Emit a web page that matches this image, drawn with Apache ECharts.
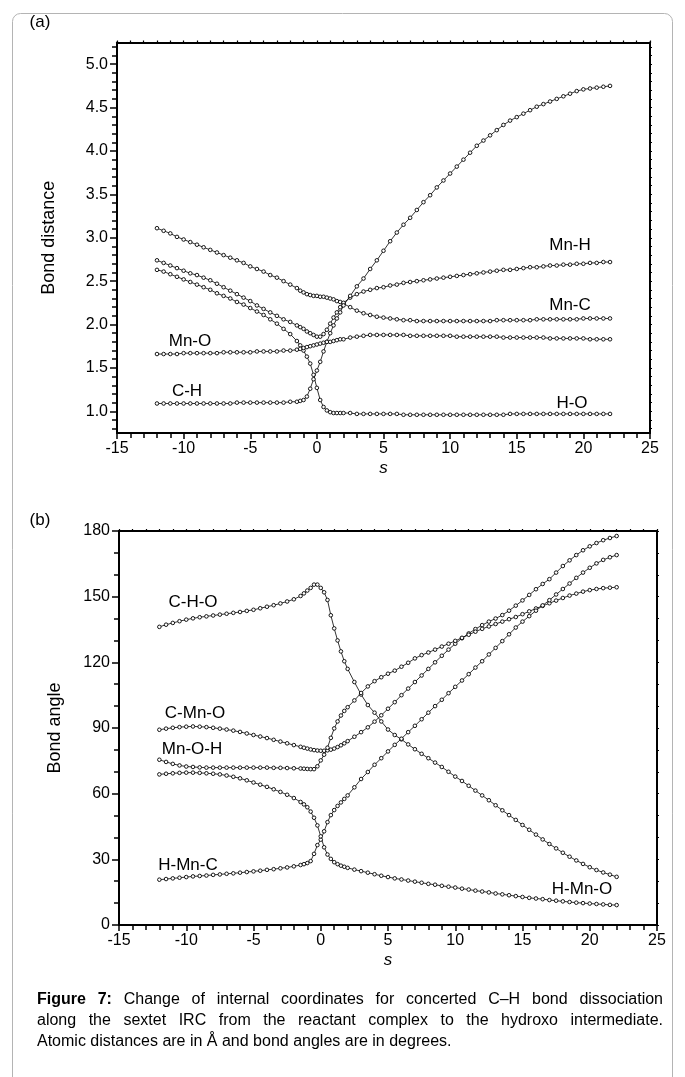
<!DOCTYPE html>
<html>
<head>
<meta charset="utf-8">
<title>Figure 7 - internal coordinates along the IRC</title>
<script src="https://cdn.jsdelivr.net/npm/echarts@6/dist/echarts.min.js"></script>
<style>
    html, body { margin: 0; padding: 0; background: #fff; }
    #chart { width: 685px; height: 1077px; }
</style>
</head>
<body>
<div id="chart"></div>
<script>
// reaction coordinate s (shared by every curve)
const S = [-12, -11.5, -11, -10.5, -10, -9.5, -9, -8.5, -8, -7.5, -7, -6.5, -6, -5.5, -5, -4.5, -4, -3.5, -3, -2.5, -2, -1.5,
    -1.25, -1, -0.75, -0.5, -0.25, 0, 0.25, 0.5, 0.75, 1, 1.25, 1.5, 1.75, 2,
    2.5, 3, 3.5, 4, 4.5, 5, 5.5, 6, 6.5, 7, 7.5, 8, 8.5, 9, 9.5, 10, 10.5, 11, 11.5, 12, 12.5, 13, 13.5, 14,
    14.5, 15, 15.5, 16, 16.5, 17, 17.5, 18, 18.5, 19, 19.5, 20, 20.5, 21, 21.5, 22];

// (a) bond distances
const mnC = [3.11, 3.08, 3.05, 3.01, 2.98, 2.95, 2.92, 2.89, 2.86, 2.83, 2.80, 2.77, 2.74, 2.71, 2.67, 2.64, 2.61, 2.57, 2.54, 2.50, 2.46, 2.42,
    2.39, 2.37, 2.35, 2.34, 2.33, 2.33, 2.32, 2.32, 2.31, 2.30, 2.29, 2.27, 2.26, 2.24,
    2.20, 2.16, 2.13, 2.11, 2.09, 2.08, 2.07, 2.06, 2.05, 2.05, 2.04, 2.04, 2.04, 2.04, 2.04, 2.04, 2.04, 2.04, 2.04, 2.04,
    2.04, 2.04, 2.05, 2.05, 2.05, 2.05, 2.05, 2.05, 2.06, 2.06, 2.06, 2.06, 2.06, 2.06, 2.06, 2.07, 2.07, 2.07, 2.07, 2.07];
const mnH = [2.74, 2.71, 2.68, 2.65, 2.62, 2.59, 2.57, 2.54, 2.51, 2.47, 2.43, 2.39, 2.35, 2.31, 2.27, 2.22, 2.18, 2.14, 2.10, 2.06, 2.03, 1.99,
    1.97, 1.95, 1.92, 1.90, 1.88, 1.86, 1.86, 1.89, 1.94, 2.01, 2.08, 2.14, 2.20, 2.25,
    2.31, 2.35, 2.38, 2.40, 2.42, 2.43, 2.45, 2.46, 2.48, 2.49, 2.50, 2.51, 2.52, 2.53, 2.54, 2.55, 2.56, 2.57, 2.58, 2.59,
    2.60, 2.61, 2.62, 2.63, 2.63, 2.64, 2.65, 2.66, 2.66, 2.67, 2.68, 2.68, 2.69, 2.69, 2.70, 2.70, 2.71, 2.71, 2.72, 2.72];
const hO = [2.63, 2.61, 2.58, 2.55, 2.52, 2.49, 2.46, 2.43, 2.40, 2.36, 2.33, 2.30, 2.26, 2.23, 2.19, 2.15, 2.11, 2.06, 2.01, 1.95, 1.89, 1.81,
    1.76, 1.70, 1.63, 1.55, 1.42, 1.27, 1.13, 1.05, 1.01, 0.99, 0.98, 0.98, 0.98, 0.98,
    0.98, 0.97, 0.97, 0.97, 0.97, 0.97, 0.97, 0.97, 0.96, 0.96, 0.96, 0.96, 0.96, 0.96, 0.96, 0.96, 0.96, 0.96, 0.96, 0.96,
    0.96, 0.96, 0.96, 0.96, 0.97, 0.97, 0.97, 0.97, 0.97, 0.97, 0.97, 0.97, 0.97, 0.97, 0.97, 0.97, 0.97, 0.97, 0.97, 0.97];
const cH = [1.09, 1.09, 1.09, 1.09, 1.09, 1.09, 1.09, 1.09, 1.09, 1.09, 1.09, 1.09, 1.10, 1.10, 1.10, 1.10, 1.10, 1.10, 1.10, 1.10, 1.11, 1.11,
    1.12, 1.13, 1.17, 1.26, 1.37, 1.47, 1.57, 1.69, 1.80, 1.90, 1.99, 2.07, 2.14, 2.22,
    2.33, 2.44, 2.53, 2.64, 2.74, 2.85, 2.96, 3.06, 3.15, 3.23, 3.32, 3.41, 3.49, 3.58, 3.66, 3.74, 3.82, 3.90, 3.98, 4.06,
    4.12, 4.18, 4.24, 4.30, 4.35, 4.39, 4.43, 4.47, 4.51, 4.54, 4.57, 4.60, 4.63, 4.66, 4.69, 4.71, 4.72, 4.73, 4.74, 4.75];
const mnO = [1.66, 1.66, 1.66, 1.66, 1.67, 1.67, 1.67, 1.67, 1.67, 1.67, 1.68, 1.68, 1.68, 1.68, 1.68, 1.69, 1.69, 1.69, 1.69, 1.70, 1.70, 1.71,
    1.72, 1.73, 1.74, 1.75, 1.76, 1.77, 1.78, 1.79, 1.80, 1.80, 1.81, 1.82, 1.83, 1.83,
    1.85, 1.86, 1.87, 1.88, 1.88, 1.88, 1.88, 1.88, 1.88, 1.87, 1.87, 1.87, 1.87, 1.87, 1.87, 1.87, 1.86, 1.86, 1.86, 1.86,
    1.86, 1.86, 1.86, 1.85, 1.85, 1.85, 1.85, 1.85, 1.85, 1.85, 1.84, 1.84, 1.84, 1.84, 1.84, 1.84, 1.83, 1.83, 1.83, 1.83];

// (b) bond angles
const cHO = [136.2, 137.2, 138, 138.8, 139.5, 140.1, 140.6, 141, 141.4, 141.8, 142.2, 142.6, 143, 143.5, 144, 144.7, 145.4, 146.1, 146.9, 147.8, 148.8, 150.3,
    151.5, 152.8, 154, 155.5, 155.5, 154, 152, 148.5, 141.5, 135.5, 130, 125, 120.5, 117,
    111, 105.3, 100.5, 97, 93, 89.3, 86.8, 84.8, 82.5, 80.3, 78.2, 76.2, 74.2, 72.2, 70, 67.8, 65.8, 63.6, 61.4, 59.2,
    57, 54.7, 52.4, 50.2, 48, 45.7, 43.5, 41.3, 39.1, 37, 35, 33, 31.2, 29.5, 27.9, 26.4, 25.1, 24, 23, 22];
const cMnO = [89.2, 89.7, 90.1, 90.4, 90.6, 90.7, 90.6, 90.4, 90.1, 89.7, 89.3, 88.8, 88.2, 87.5, 86.8, 86.1, 85.4, 84.6, 83.8, 83, 82.2, 81.4,
    81, 80.6, 80.2, 79.9, 79.7, 79.6, 79.6, 79.8, 80.1, 80.6, 81.3, 82.1, 83, 84,
    86, 88.1, 90.3, 92.9, 95.8, 98.8, 101.8, 105, 108, 111, 114, 117, 120, 123, 125.8, 128.5, 131, 133.2, 135.2, 137,
    138.6, 140, 141.6, 143.6, 145.9, 148.3, 150.8, 153.4, 155.8, 158, 161, 164, 166.6, 169, 171.2, 173, 174.5, 175.8, 176.8, 177.7];
const mnOH = [75.5, 74.5, 73.6, 72.9, 72.4, 72.2, 72, 71.9, 71.9, 71.9, 71.9, 71.9, 71.9, 71.9, 71.9, 71.9, 71.9, 71.8, 71.8, 71.7, 71.6, 71.5,
    71.4, 71.3, 71.2, 71.2, 72.5, 75.2, 77.8, 81, 85.5, 89.8, 93, 95.7, 97.8, 99.5,
    102.6, 106, 109, 111.4, 113.2, 114.8, 116.2, 118, 119.8, 121.8, 123.3, 124.5, 125.8, 127.2, 128.5, 129.8, 131.2, 132.6, 134, 135.3,
    136.4, 137.5, 138.6, 139.7, 140.7, 142, 143.3, 144.6, 145.8, 147, 148.2, 149.4, 150.5, 151.4, 152.3, 153, 153.5, 153.9, 154.1, 154.3];
const hMnC = [20.7, 21, 21.3, 21.6, 21.9, 22.2, 22.4, 22.6, 22.9, 23.1, 23.4, 23.6, 23.9, 24.2, 24.5, 24.8, 25.2, 25.5, 25.9, 26.3, 26.8, 27.4,
    27.8, 28.3, 29.2, 32.5, 36.5, 39, 42.8, 47, 50.2, 52.5, 54.4, 56, 57.6, 59.2,
    62.9, 66.7, 69.9, 73.2, 76.2, 79.3, 82.3, 85.1, 88.1, 91, 94, 97, 100, 102.9, 105.9, 108.8, 111.7, 114.6, 117.6, 120.5,
    123.6, 126.6, 129.7, 132.8, 135.9, 138.6, 141.1, 143.6, 146, 148.4, 151, 153.5, 156, 158.6, 161, 163.2, 165.2, 166.8, 168, 169];
const hMnO = [68.8, 69.1, 69.3, 69.5, 69.6, 69.6, 69.5, 69.3, 69.1, 68.8, 68.3, 67.7, 67, 66.1, 65.1, 64.1, 63.1, 62, 60.8, 59.5, 58, 56.2,
    55.1, 53.8, 51.8, 49, 45.5, 40.5, 35.5, 32.2, 30.2, 28.7, 27.8, 27.1, 26.6, 26.1,
    25.3, 24.6, 23.9, 23.2, 22.5, 21.9, 21.3, 20.8, 20.3, 19.8, 19.3, 18.8, 18.4, 17.9, 17.5, 17.1, 16.6, 16.2, 15.7, 15.3,
    14.9, 14.4, 14, 13.6, 13.2, 12.8, 12.4, 12.1, 11.8, 11.4, 11.1, 10.8, 10.5, 10.2, 10, 9.8, 9.6, 9.4, 9.2, 9.1];

// tick labels
const DIST_TICKS = [1.0, 1.5, 2.0, 2.5, 3.0, 3.5, 4.0, 4.5, 5.0];
const CAPTION_BOLD = ['Figure', '7:'];
const CAPTION = [
    'Figure 7: Change of internal coordinates for concerted C\u2013H bond dissociation',
    'along the sextet IRC from the reactant complex to the hydroxo intermediate.',
    'Atomic distances are in \u00c5 and bond angles are in degrees.'
];

const FONT = 'Liberation Sans, Arial, sans-serif';
const BLACK = '#000';

//minor ticks every 0.1 on the distance axis
const distMinor = [];
for (let i = 8; i <= 52; i++) {
    if (i % 5 !== 0) distMinor.push(i / 10);
}
const distAll = [];
for (let i = 8; i <= 52; i++) distAll.push(i / 10);

function curve(name, vals, xi, yi) {
    return {
        name: name,
        type: 'line',
        xAxisIndex: xi,
        yAxisIndex: yi,
        data: S.map((s, i) => [s, vals[i]]),
        symbol: 'circle',
        symbolSize: 3.6,
        showSymbol: true,
        silent: true,
        lineStyle: { color: BLACK, width: 0.8 },
        itemStyle: { color: '#fff', borderColor: BLACK, borderWidth: 0.9 },
        emphasis: { disabled: true }
    };
}

const axisLine = { show: true, onZero: false, lineStyle: { color: BLACK, width: 2 } };

function bottomX(gi) {
    return {
        type: 'value', gridIndex: gi, position: 'bottom',
        min: -15, max: 25, interval: 5,
        axisLine: axisLine,
        axisTick: { length: 6, lineStyle: { color: BLACK, width: 1.5 } },
        minorTick: { show: true, splitNumber: 5, length: 5, lineStyle: { color: BLACK, width: 1.5 } },
        axisLabel: { color: BLACK, fontSize: 16, fontFamily: FONT, margin: 8 },
        splitLine: { show: false },
        name: 's', nameLocation: 'middle', nameGap: 27,
        nameTextStyle: { color: BLACK, fontSize: 17, fontStyle: 'italic', fontFamily: FONT }
    };
}

function topX(gi) {
    return {
        type: 'value', gridIndex: gi, position: 'top',
        min: -15, max: 25, interval: 1,
        axisLine: axisLine,
        axisTick: { length: 2, lineStyle: { color: BLACK, width: 1.2 } },
        axisLabel: { show: false },
        splitLine: { show: false }
    };
}

const option = {
    animation: false,
    backgroundColor: '#fff',
    grid: [
        { left: 117, top: 42.5, width: 533, height: 390.5 },
        { left: 119, top: 531, width: 538, height: 394 }
    ],
    xAxis: [bottomX(0), topX(0), bottomX(1), topX(1)],
    yAxis: [
        {
            type: 'value', gridIndex: 0, position: 'left',
            min: 0.75, max: 5.25,
            axisLine: axisLine,
            axisTick: { customValues: DIST_TICKS, length: 7, lineStyle: { color: BLACK, width: 1.5 } },
            axisLabel: {
                customValues: DIST_TICKS, color: BLACK, fontSize: 16, fontFamily: FONT, margin: 9,
                formatter: v => v.toFixed(1)
            },
            splitLine: { show: false },
            name: 'Bond distance', nameLocation: 'middle', nameGap: 59,
            nameTextStyle: { color: BLACK, fontSize: 18, fontFamily: FONT }
        },
        {
            type: 'value', gridIndex: 0, position: 'left',
            min: 0.75, max: 5.25,
            axisLine: { show: false, onZero: false },
            axisTick: { customValues: distMinor, length: 5, lineStyle: { color: BLACK, width: 1.5 } },
            axisLabel: { show: false },
            splitLine: { show: false }
        },
        {
            type: 'value', gridIndex: 0, position: 'right',
            min: 0.75, max: 5.25,
            axisLine: axisLine,
            axisTick: { customValues: distAll, length: 2, lineStyle: { color: BLACK, width: 1.2 } },
            axisLabel: { show: false },
            splitLine: { show: false }
        },
        {
            type: 'value', gridIndex: 1, position: 'left',
            min: 0, max: 180, interval: 30,
            axisLine: axisLine,
            axisTick: { length: 7, lineStyle: { color: BLACK, width: 1.5 } },
            minorTick: { show: true, splitNumber: 3, length: 5, lineStyle: { color: BLACK, width: 1.5 } },
            axisLabel: { color: BLACK, fontSize: 16, fontFamily: FONT, margin: 9 },
            splitLine: { show: false },
            name: 'Bond angle', nameLocation: 'middle', nameGap: 55,
            nameTextStyle: { color: BLACK, fontSize: 18, fontFamily: FONT }
        },
        {
            type: 'value', gridIndex: 1, position: 'right',
            min: 0, max: 180, interval: 10,
            axisLine: axisLine,
            axisTick: { length: 2, lineStyle: { color: BLACK, width: 1.2 } },
            axisLabel: { show: false },
            splitLine: { show: false }
        }
    ],
    series: [
        curve('Mn-C', mnC, 0, 0),
        curve('Mn-H', mnH, 0, 0),
        curve('H-O', hO, 0, 0),
        curve('C-H', cH, 0, 0),
        curve('Mn-O', mnO, 0, 0),
        curve('C-H-O', cHO, 2, 3),
        curve('C-Mn-O', cMnO, 2, 3),
        curve('Mn-O-H', mnOH, 2, 3),
        curve('H-Mn-C', hMnC, 2, 3),
        curve('H-Mn-O', hMnO, 2, 3)
    ],
    graphic: []
};

// frame round the figure
option.graphic.push({
    type: 'rect', silent: true, z: -1,
    shape: { x: 12.5, y: 13.5, width: 660, height: 1100, r: 8 },
    style: { fill: 'none', stroke: '#b4b4b4', lineWidth: 1 }
});

//panel letters and curve names
const texts = [
    ['(a)', 40, 22], ['(b)', 40, 520],
    ['Mn-H', 570, 245], ['Mn-C', 570, 305], ['H-O', 572, 403], ['Mn-O', 190, 341], ['C-H', 187, 391],
    ['C-H-O', 193, 602], ['C-Mn-O', 195, 713], ['Mn-O-H', 192, 749], ['H-Mn-C', 188, 865], ['H-Mn-O', 582, 889]
];
texts.forEach(t => {
    option.graphic.push({
        type: 'text', silent: true, x: t[1], y: t[2],
        style: { text: t[0], fill: BLACK, font: '17px ' + FONT, textAlign: 'center', textVerticalAlign: 'middle' }
    });
});

// caption: justified like the printed figure (last line left aligned)
const measure = document.createElement('canvas').getContext('2d');
const CAP_LEFT = 37, CAP_RIGHT = 663, CAP_TOP = 1000, CAP_LINE = 21;
CAPTION.forEach((line, li) => {
    const words = line.split(' ');
    const widths = words.map((w, wi) => {
        const bold = li === 0 && wi < CAPTION_BOLD.length;
        measure.font = (bold ? 'bold ' : '') + '16px ' + FONT;
        return measure.measureText(w).width;
    });
    measure.font = '16px ' + FONT;
    let gap = measure.measureText(' ').width;
    if (li < CAPTION.length - 1) {
        const total = widths.reduce((a, b) => a + b, 0);
        gap = (CAP_RIGHT - CAP_LEFT - total) / (words.length - 1);
    }
    let x = CAP_LEFT;
    words.forEach((w, wi) => {
        const bold = li === 0 && wi < CAPTION_BOLD.length;
        option.graphic.push({
            type: 'text', silent: true, x: x, y: CAP_TOP + li * CAP_LINE,
            style: {
                text: w, fill: BLACK, font: (bold ? 'bold ' : '') + '16px ' + FONT,
                textAlign: 'left', textVerticalAlign: 'middle'
            }
        });
        x += widths[wi] + gap;
    });
});

const chart = echarts.init(document.getElementById('chart'), null, { renderer: 'canvas' });
chart.setOption(option);
</script>
</body>
</html>
